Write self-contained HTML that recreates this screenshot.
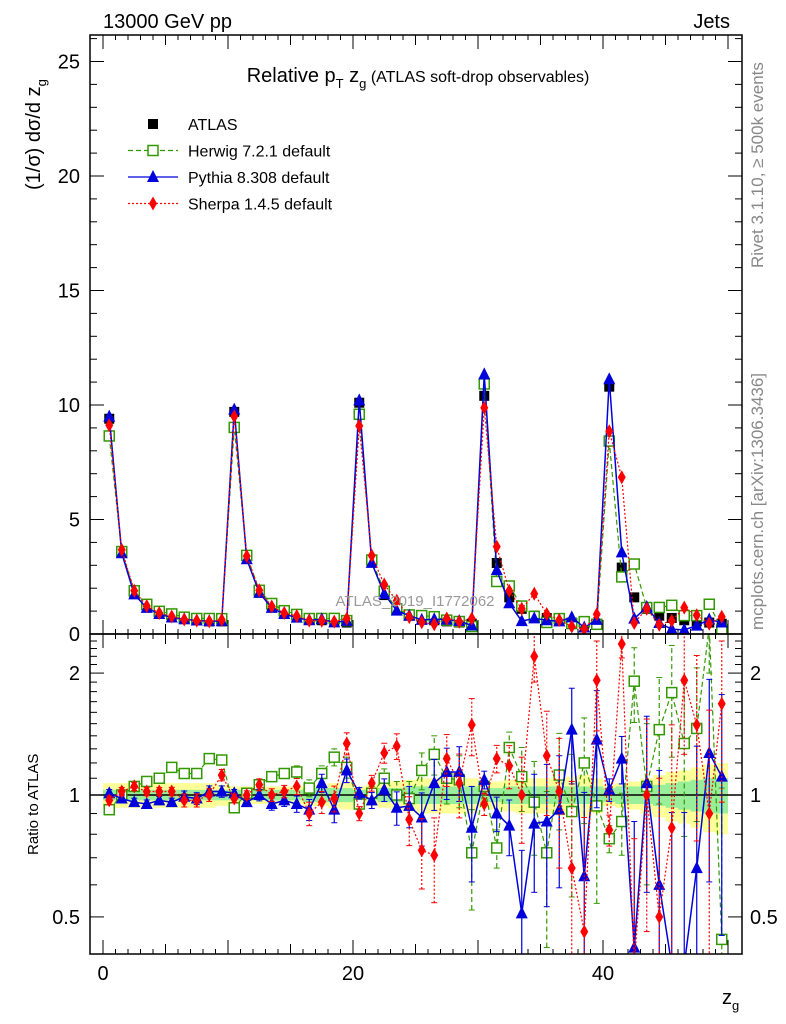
<!DOCTYPE html>
<html><head><meta charset="utf-8"><style>
html,body{margin:0;padding:0;background:#fff;width:786px;height:1024px;overflow:hidden;}
svg{display:block;font-family:"Liberation Sans",sans-serif;}
</style></head><body>
<svg id="c" width="786" height="1024" viewBox="0 0 786 1024">
<rect x="0" y="0" width="786" height="1024" fill="#fff"/>
<g id="bands"></g>
<g id="marks"></g>
<g id="axes"></g>
<text x="103" y="28" font-size="20">13000 GeV pp</text>
<text x="730" y="28" font-size="20" text-anchor="end">Jets</text>
<text x="418" y="82" font-size="20" text-anchor="middle">Relative p<tspan font-size="13" dy="6">T</tspan><tspan dy="-6"> z</tspan><tspan font-size="13" dy="6">g</tspan><tspan dy="-6" font-size="16"> (ATLAS soft-drop observables)</tspan></text>
<text x="415" y="606" font-size="15" fill="#999" text-anchor="middle">ATLAS_2019_I1772062</text>
<text transform="translate(40,190) rotate(-90)" font-size="20">(1/σ) dσ/d z<tspan font-size="13" dy="6">g</tspan></text>
<text transform="translate(38,855) rotate(-90)" font-size="15">Ratio to ATLAS</text>
<text x="722" y="1004" font-size="20">z<tspan font-size="13" dy="6">g</tspan></text>
<text transform="translate(763,268) rotate(-90)" font-size="17" fill="#888">Rivet 3.1.10, ≥ 500k events</text>
<text transform="translate(763,630) rotate(-90)" font-size="17" fill="#888">mcplots.cern.ch [arXiv:1306.3436]</text>
<g id="legend"></g>
</svg>
<script>
const atlas=[9.4,3.6,1.8,1.2,0.9,0.75,0.65,0.6,0.55,0.55, 9.7,3.4,1.8,1.2,0.9,0.75,0.65,0.6,0.55,0.5, 10.1,3.2,1.7,1.1,0.85,0.7,0.6,0.55,0.5,0.45, 10.4,3.1,1.6,1.1,0.8,0.7,0.6,0.5,0.45,0.45, 10.8,2.9,1.6,1.1,0.8,0.7,0.6,0.55,0.5,0.45];
const herwigRatio=[0.92,1.0,1.05,1.08,1.1,1.17,1.13,1.13,1.23,1.22, 0.93,1.01,1.06,1.11,1.13,1.14,1.04,1.13,1.24,1.17, 0.95,1.01,1.1,1.0,0.98,1.15,1.26,1.1,1.09,0.72, 1.05,0.74,1.31,1.11,0.96,0.72,1.12,0.91,1.2,0.94, 0.78,0.86,1.91,1.05,1.45,1.79,1.34,1.46,2.6,0.44];
const pythiaRatio=[1.01,0.98,0.96,0.95,0.97,0.96,0.99,0.98,1.02,1.02, 1.01,0.96,1.0,0.95,0.97,0.95,0.92,1.07,0.92,1.15, 1.01,0.97,1.03,0.93,0.94,0.88,1.07,1.14,1.14,0.83, 1.09,0.9,0.84,0.51,0.85,0.86,0.92,1.45,0.63,1.37, 1.03,1.23,0.42,1.07,0.6,0.3,0.3,0.66,1.27,1.11];
const sherpaRatio=[0.97,1.02,1.05,1.02,1.02,1.02,0.97,0.97,1.0,1.12, 0.98,1.0,1.06,1.0,1.02,1.05,0.9,0.96,0.98,1.34, 0.9,1.07,1.27,1.32,0.87,0.73,0.71,1.23,1.07,1.49, 0.95,1.23,1.18,1.0,2.2,1.25,1.02,0.66,0.46,1.92, 0.82,2.36,0.3,1.0,0.5,0.83,1.92,1.49,0.9,1.68];
const mcErr=[0.02,0.02,0.02,0.02,0.02,0.02,0.03,0.03,0.03,0.03, 0.02,0.02,0.03,0.03,0.03,0.04,0.05,0.05,0.06,0.07, 0.03,0.04,0.06,0.08,0.1,0.12,0.14,0.15,0.16,0.2, 0.05,0.08,0.12,0.2,0.25,0.3,0.3,0.35,0.35,0.4, 0.06,0.15,0.4,0.45,0.5,0.55,0.55,0.6,0.6,0.6];
const bandInner=[0.03,0.03,0.03,0.03,0.03,0.03,0.03,0.03,0.03,0.03, 0.03,0.03,0.03,0.03,0.03,0.03,0.04,0.04,0.04,0.04, 0.03,0.03,0.04,0.04,0.05,0.05,0.05,0.05,0.05,0.05, 0.04,0.04,0.05,0.05,0.05,0.05,0.05,0.05,0.05,0.05, 0.04,0.05,0.05,0.05,0.06,0.07,0.08,0.09,0.1,0.1];
const bandOuter=[0.07,0.07,0.07,0.07,0.07,0.07,0.07,0.07,0.07,0.06, 0.05,0.05,0.05,0.05,0.05,0.05,0.06,0.06,0.07,0.08, 0.05,0.06,0.07,0.08,0.09,0.1,0.1,0.1,0.1,0.1, 0.07,0.08,0.09,0.1,0.1,0.1,0.11,0.11,0.12,0.1, 0.06,0.07,0.08,0.1,0.12,0.14,0.15,0.17,0.19,0.2];
const xTickLabels=[0,20,40];
const yMainTicks=[0,5,10,15,20,25];
const yRatioLabels=[0.5,1,2];

const L=90,R=742,T=35,MB=634,RB=954;
const RMIN=0.38,RMAX=2.6;
const X=v=>103+12.5*v;
const Ym=v=>634-22.9*v;
const Yr=v=>795-405*Math.log10(Math.min(Math.max(v,RMIN),RMAX));
const NS='http://www.w3.org/2000/svg';
function mk(tag,attrs,parent){const e=document.createElementNS(NS,tag);for(const k in attrs)e.setAttribute(k,attrs[k]);parent.appendChild(e);return e;}
const svg=document.getElementById('c');
const bands=document.getElementById('bands');
const marks=document.getElementById('marks');
const axes=document.getElementById('axes');

atlas.forEach((a,i)=>{
  const r1=mk('rect',{x:X(i),y:Yr(1+bandOuter[i]),width:12.5,height:Yr(1-bandOuter[i])-Yr(1+bandOuter[i]),fill:'#ffff99'},bands);
  
  
  const r2=mk('rect',{x:X(i),y:Yr(1+bandInner[i]),width:12.5,height:Yr(1-bandInner[i])-Yr(1+bandInner[i]),fill:'#99ee99'},bands);
  
  
});
const one=mk('line',{x1:L,x2:R,y1:Yr(1),y2:Yr(1),stroke:'#000','stroke-width':1.5},bands);



const defs=mk('defs',{},svg);
const c1=mk('clipPath',{id:'cm'},defs);mk('rect',{x:L,y:T,width:R-L,height:MB-T},c1);
const c2=mk('clipPath',{id:'cr'},defs);mk('rect',{x:L,y:MB,width:R-L,height:RB-MB},c2);
const gm=mk('g',{'clip-path':'url(#cm)'},marks);


const gr=mk('g',{'clip-path':'url(#cr)'},marks);



function marker(g,type,cx,cy,col){
  let e;
  if(type==='sq') e=mk('rect',{x:cx-5,y:cy-5,width:10,height:10,fill:'#fff',stroke:col,'stroke-width':1.5},g);
  else if(type==='fsq') e=mk('rect',{x:cx-5,y:cy-5,width:10,height:10,fill:col},g);
  else if(type==='tri') e=mk('polygon',{points:`${cx},${cy-7} ${cx-6},${cy+5} ${cx+6},${cy+5}`,fill:col},g);
  else e=mk('polygon',{points:`${cx},${cy-7} ${cx-4},${cy} ${cx},${cy+7} ${cx+4},${cy}`,fill:col},g);
  return e;
}
const series=[
 {name:'herwig',ratio:herwigRatio,col:'#339900',type:'sq',dash:'5,3',w:1.2,ef:1.0},
 {name:'pythia',ratio:pythiaRatio,col:'#0000dd',type:'tri',dash:'',w:1.5,ef:1.1},
 {name:'sherpa',ratio:sherpaRatio,col:'#ff0000',type:'dia',dash:'2,2',w:1.2,ef:1.2}
];
atlas.forEach((a,i)=>{
  const m=marker(gm,'fsq',X(i+0.5),Ym(a),'#000');
  
  
});
series.forEach(s=>{
  const mainVals=atlas.map((a,i)=>a*s.ratio[i]);
  const pm=mk('polyline',{points:mainVals.map((v,i)=>X(i+0.5)+','+Ym(v)).join(' '),fill:'none',stroke:s.col,'stroke-width':s.w,'stroke-dasharray':s.dash},gm);
  
  
  const pr=mk('polyline',{points:s.ratio.map((v,i)=>X(i+0.5)+','+Yr(v)).join(' '),fill:'none',stroke:s.col,'stroke-width':s.w,'stroke-dasharray':s.dash},gr);
  
  
  s.ratio.forEach((v,i)=>{
    const cx=X(i+0.5);
    const e=mcErr[i]*s.ef;
    const lo=v-e,hi=v+e;
    const eb=mk('line',{x1:cx,x2:cx,y1:Yr(lo),y2:Yr(hi),stroke:s.col,'stroke-width':1.2,'stroke-dasharray':s.dash},gr);
    
    
    mk('line',{x1:cx-3,x2:cx+3,y1:Yr(hi),y2:Yr(hi),stroke:s.col},gr);
    mk('line',{x1:cx-3,x2:cx+3,y1:Yr(lo),y2:Yr(lo),stroke:s.col},gr);
    const m=marker(gr,s.type,cx,Yr(v),s.col);
    
    
    const mm=marker(gm,s.type,cx,Ym(mainVals[i]),s.col);
    
    
  });
});

mk('rect',{x:L,y:T,width:R-L,height:MB-T,fill:'none',stroke:'#000','stroke-width':1.5},axes);
mk('rect',{x:L,y:MB,width:R-L,height:RB-MB,fill:'none',stroke:'#000','stroke-width':1.5},axes);
for(let v=0;v<=50;v++){
  const big=v%10===0, mid=v%5===0;
  const len=big?14:(mid?10:5);
  [[MB,-1],[RB,-1],[T,1],[MB,1]].forEach(([y,d])=>{
    mk('line',{x1:X(v),x2:X(v),y1:y,y2:y+d*len,stroke:'#000','stroke-width':1},axes);
  });
}
xTickLabels.forEach(v=>{
  const t=mk('text',{x:X(v),y:980,'font-size':20,'text-anchor':'middle'},axes);t.textContent=v;
  
  
});
for(let v=0;v<=26;v++){
  const len=v%5===0?14:7;
  mk('line',{x1:L,x2:L+len,y1:Ym(v),y2:Ym(v),stroke:'#000'},axes);
  mk('line',{x1:R,x2:R-len,y1:Ym(v),y2:Ym(v),stroke:'#000'},axes);
}
yMainTicks.forEach(v=>{
  const t=mk('text',{x:80,y:Ym(v)+7,'font-size':20,'text-anchor':'end'},axes);t.textContent=v;
  
  
});
[0.5,0.6,0.7,0.8,0.9,1,1.1,1.2,1.3,1.4,1.5,1.6,1.7,1.8,1.9,2,2.1,2.2,2.3,2.4].forEach(v=>{
  const big=(v===0.5||v===1||v===2);
  const len=big?14:7;
  mk('line',{x1:L,x2:L+len,y1:Yr(v),y2:Yr(v),stroke:'#000'},axes);
  mk('line',{x1:R,x2:R-len,y1:Yr(v),y2:Yr(v),stroke:'#000'},axes);
});
yRatioLabels.forEach(v=>{
  const t=mk('text',{x:80,y:Yr(v)+7,'font-size':20,'text-anchor':'end'},axes);t.textContent=v;
  
  
  const t2=mk('text',{x:750,y:Yr(v)+7,'font-size':20},axes);t2.textContent=v;
  
  
});
const lg=document.getElementById('legend');
const leg=[['ATLAS','#000','fsq',''],['Herwig 7.2.1 default','#339900','sq','5,3'],['Pythia 8.308 default','#0000dd','tri',''],['Sherpa 1.4.5 default','#ff0000','dia','2,2']];
leg.forEach((l,k)=>{
  const y=124+k*26.5;
  const g=mk('g',{},lg);
  
  
  if(k>0) mk('line',{x1:128,x2:178,y1:y,y2:y,stroke:l[1],'stroke-width':1.3,'stroke-dasharray':l[3]},g);
  marker(g,l[2],153,y,l[1]);
  const t=mk('text',{x:188,y:y+6,'font-size':16},g);t.textContent=l[0];
});
</script>
</body></html>
